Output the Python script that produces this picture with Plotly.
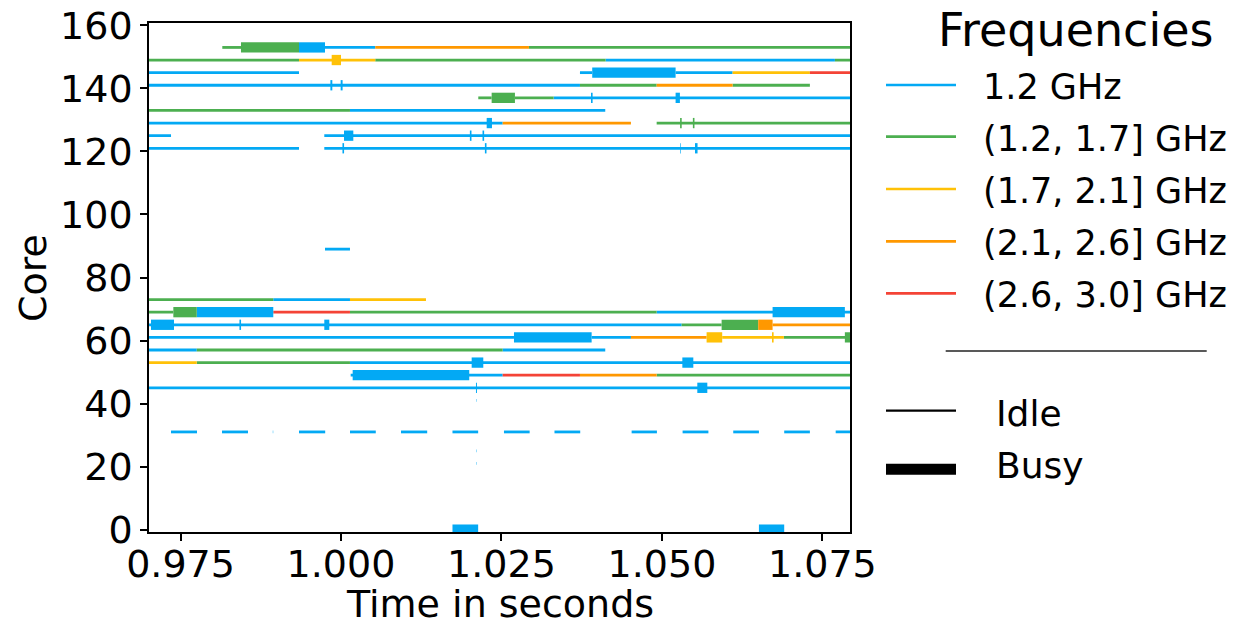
import plotly.graph_objects as go

# ---------------- data ----------------
FREQ_LABELS = ["1.2 GHz", "(1.2, 1.7] GHz", "(1.7, 2.1] GHz", "(2.1, 2.6] GHz", "(2.6, 3.0] GHz"]
FREQ_COLORS = ["#03A9F4", "#4CAF50", "#FFC107", "#FF9800", "#F44336"]
STATE_LABELS = ["Idle", "Busy"]
X_TICKS = [0.975, 1.000, 1.025, 1.050, 1.075]
Y_TICKS = [0, 20, 40, 60, 80, 100, 120, 140, 160]

B, G, Y, O, R = 0, 1, 2, 3, 4   # frequency bins
I, U = 0, 1                     # idle / busy
S, E = 0.960, 1.085             # trace start / end (beyond view)

# (start, end, frequency bin, state)
core_153 = [(0.98151, 0.98442, G, I), (0.98442, 0.99346, G, U), (0.99346, 0.99751, B, U),
            (0.99751, 1.00534, B, I), (1.00534, 1.02928, O, I), (1.02928, E, G, I)]
core_149 = [(S, 0.99346, G, I), (0.99346, 1.00534, Y, I), (0.99855, 1.00000, Y, U),
            (1.00534, 1.04123, G, I), (1.04123, 1.07695, B, I), (1.07695, E, G, I)]
core_145 = [(S, 0.99346, B, I), (1.03723, 1.03914, B, I), (1.03914, 1.05213, B, U),
            (1.05213, 1.06101, B, I), (1.06101, 1.07305, Y, I), (1.07305, E, R, I)]
core_141 = [(S, 1.03723, B, I), (0.99835, 0.99865, B, U), (0.99995, 1.00025, B, U),
            (1.03723, 1.04918, G, I), (1.04918, 1.06101, O, I), (1.06101, 1.07305, G, I)]
core_137 = [(1.02139, 1.02347, G, I), (1.02347, 1.02710, G, U), (1.02710, 1.03313, G, I),
            (1.03313, E, B, I), (1.03895, 1.03920, B, U), (1.05213, 1.05280, B, U)]
core_133 = [(S, 1.00140, G, I), (1.00140, 1.04117, B, I)]
core_129 = [(S, 1.02519, B, I), (1.02270, 1.02352, B, U), (1.02519, 1.04517, O, I),
            (1.04918, E, G, I), (1.05283, 1.05308, G, U), (1.05482, 1.05507, G, U)]
core_125 = [(S, 0.97352, B, I), (0.99740, E, B, I), (1.00047, 1.00192, B, U),
            (1.02008, 1.02033, B, U), (1.02205, 1.02230, B, U)]
core_121 = [(S, 0.99346, B, I), (0.99740, E, B, I), (1.00023, 1.00048, B, U),
            (1.02242, 1.02267, B, U), (1.05285, 1.05295, B, U), (1.05515, 1.05555, B, U)]
core_89 = [(0.99751, 1.00140, B, I)]
core_73 = [(S, 0.98945, G, I), (0.98945, 1.00140, B, I), (1.00140, 1.01324, Y, I)]
core_69 = [(S, 0.97388, G, I), (0.97388, 0.97753, G, U), (0.97753, 0.98945, B, U),
           (0.98945, 1.00140, R, I), (1.00140, 1.04918, G, I), (1.04918, E, B, I),
           (1.06724, 1.07850, B, U)]
core_65 = [(S, 1.05307, B, I), (0.97040, 0.97399, B, U), (0.98418, 0.98443, B, U),
           (0.99740, 0.99818, B, U), (1.05307, 1.05930, G, I), (1.05930, 1.06500, G, U),
           (1.06500, 1.06724, O, U), (1.06724, E, O, I)]
core_61 = [(S, 1.02695, B, I), (1.02695, 1.03905, B, U), (1.03905, 1.04517, B, I),
           (1.04517, 1.05696, O, I), (1.05696, 1.05939, Y, U), (1.05939, 1.06900, Y, I),
           (1.06715, 1.06740, Y, U), (1.06900, E, G, I), (1.07850, E, G, U)]
core_57 = [(S, 0.97753, B, I), (0.97753, 1.02519, G, I), (1.02519, 1.04117, B, I)]
core_53 = [(S, 0.97753, Y, I), (0.97753, 1.00140, G, I), (1.00140, E, B, I),
           (1.02036, 1.02217, B, U), (1.05318, 1.05489, B, U)]
core_49 = [(1.00151, 1.02519, B, I), (1.00182, 1.01998, B, U), (1.02519, 1.03723, R, I),
           (1.03723, 1.04918, O, I), (1.04918, E, G, I)]
core_45 = [(S, E, B, I), (1.02103, 1.02118, B, U), (1.05551, 1.05707, B, U)]
core_41 = [(1.02110, 1.02116, B, I)]
core_31 = [(0.97352, 0.97757, B, I), (0.98146, 0.98551, B, I), (0.98938, 0.98944, B, I),
           (0.99346, 0.99754, B, I), (1.00140, 1.00542, B, I), (1.00935, 1.01343, B, I),
           (1.01737, 1.02137, B, I), (1.02539, 1.02939, B, I), (1.03326, 1.03727, B, I),
           (1.04528, 1.04922, B, I), (1.05322, 1.05724, B, I), (1.06111, 1.06511, B, I),
           (1.06905, 1.07305, B, I), (1.07707, E, B, I)]
core_25 = [(1.02110, 1.02116, B, I)]
core_21 = [(1.02110, 1.02116, B, I)]
core_0 = [(1.01737, 1.02137, B, U), (1.06511, 1.06905, B, U)]

CORES = {153: core_153, 149: core_149, 145: core_145, 141: core_141, 137: core_137,
         133: core_133, 129: core_129, 125: core_125, 121: core_121, 89: core_89,
         73: core_73, 69: core_69, 65: core_65, 61: core_61, 57: core_57, 53: core_53,
         49: core_49, 45: core_45, 41: core_41, 31: core_31, 25: core_25, 21: core_21,
         0: core_0}

# ---------------- figure ----------------
W, H = 1235, 626
PL, PR, PT, PB = 149, 850, 23, 532
FONT = "DejaVu Sans"
THIN, THICK = 2.8, 10.3

fig = go.Figure()
for state, width in ((I, THIN), (U, THICK)):
    for f in range(len(FREQ_COLORS)):
        xs, ys = [], []
        for core, segs in CORES.items():
            for a, b, fb, st in segs:
                if fb == f and st == state:
                    xs += [a, b, None]
                    ys += [core, core, None]
        if xs:
            fig.add_trace(go.Scatter(x=xs, y=ys, mode="lines",
                                     line=dict(color=FREQ_COLORS[f], width=width),
                                     showlegend=False, hoverinfo="skip"))


def px(x):
    return (x - PL) / (PR - PL)


def py(y):
    return (PB - y) / (PB - PT)


shapes, annots = [], []
# legend title
annots.append(dict(text="Frequencies", x=px(1075), y=py(30), xref="paper", yref="paper",
                   xanchor="center", yanchor="middle", showarrow=False,
                   font=dict(family=FONT, size=46, color="black")))
row_y = [85, 136.7, 189, 241.3, 293.3]
for lab, col, ry in zip(FREQ_LABELS, FREQ_COLORS, row_y):
    shapes.append(dict(type="line", xref="paper", yref="paper", x0=px(886), x1=px(956),
                       y0=py(ry), y1=py(ry), line=dict(color=col, width=2.7)))
    annots.append(dict(text=lab, x=px(981), y=py(ry + 2), xref="paper", yref="paper",
                       xanchor="left", yanchor="middle", showarrow=False,
                       font=dict(family=FONT, size=35, color="black")))
# separator
shapes.append(dict(type="line", xref="paper", yref="paper", x0=px(945.7), x1=px(1206.7),
                   y0=py(351), y1=py(351), line=dict(color="#222222", width=1.3)))
for lab, ry, w, ty in zip(STATE_LABELS, [410.7, 469.3], [2.3, 11], [413, 465]):
    shapes.append(dict(type="line", xref="paper", yref="paper", x0=px(886), x1=px(956),
                       y0=py(ry), y1=py(ry), line=dict(color="black", width=w)))
    annots.append(dict(text=lab, x=px(994), y=py(ty), xref="paper", yref="paper",
                       xanchor="left", yanchor="middle", showarrow=False,
                       font=dict(family=FONT, size=36, color="black")))
# axis titles
annots.append(dict(text="Time in seconds", x=px(500), y=py(603.5), xref="paper", yref="paper",
                   xanchor="center", yanchor="middle", showarrow=False,
                   font=dict(family=FONT, size=38, color="black")))
annots.append(dict(text="Core", x=px(33), y=py(278), xref="paper", yref="paper",
                   xanchor="center", yanchor="middle", showarrow=False, textangle=-90,
                   font=dict(family=FONT, size=38, color="black")))

axis_common = dict(ticks="outside", ticklen=7, tickwidth=1.5, tickcolor="black",
                   showline=True, linecolor="black", linewidth=1.5, mirror=True,
                   showgrid=False, zeroline=False,
                   tickfont=dict(family=FONT, size=38, color="black"))

fig.update_layout(
    width=W, height=H,
    margin=dict(l=PL, r=W - PR, t=PT, b=H - PB, pad=0),
    paper_bgcolor="white", plot_bgcolor="white",
    xaxis=dict(range=[0.97009, 1.0793], tickvals=X_TICKS, ticklabelstandoff=-9,
               ticktext=[f"{v:.3f}" for v in X_TICKS], automargin=False, **axis_common),
    yaxis=dict(range=[-0.75, 160.75], tickvals=Y_TICKS,
               ticktext=[str(v) for v in Y_TICKS], automargin=False, **axis_common),
    shapes=shapes, annotations=annots, showlegend=False,
)

fig.write_html("out.html")
